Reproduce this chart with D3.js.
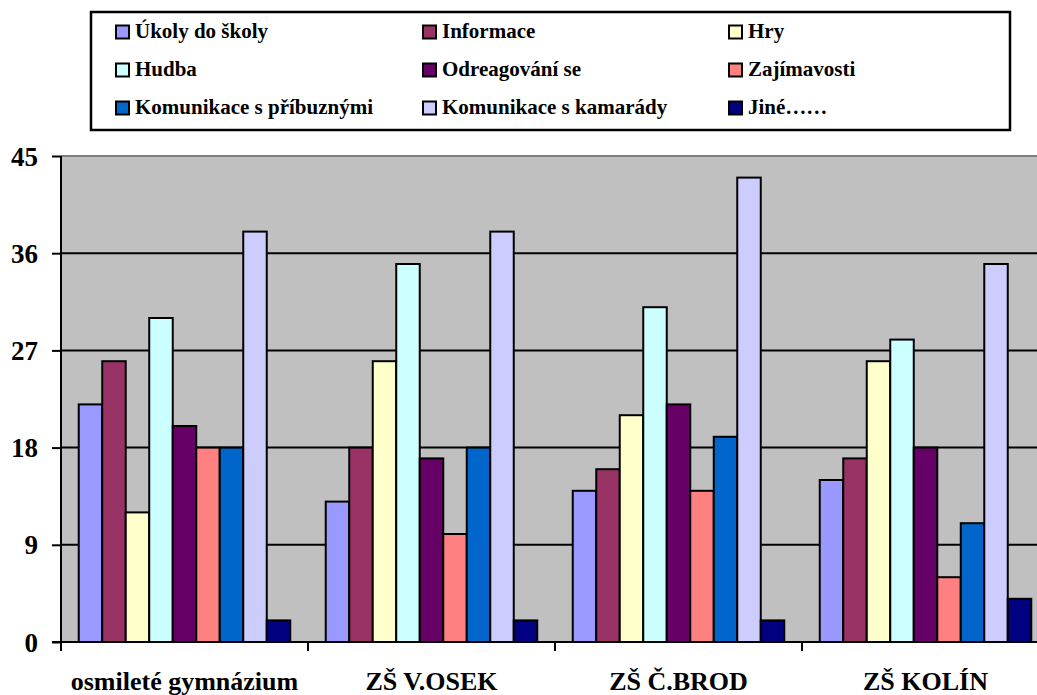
<!DOCTYPE html>
<html><head><meta charset="utf-8">
<script src="https://cdn.jsdelivr.net/npm/d3@7"></script>
<style>body{margin:0;background:#fff}svg{display:block}</style>
</head><body><svg id="c" width="1037" height="695"></svg>
<script>
const categories = ["osmileté gymnázium", "ZŠ V.OSEK", "ZŠ Č.BROD", "ZŠ KOLÍN"];
const seriesNames = ["Úkoly do školy", "Informace", "Hry", "Hudba", "Odreagování se", "Zajímavosti", "Komunikace s příbuznými", "Komunikace s kamarády", "Jiné……"];
const seriesColors = ["#9999FF", "#993366", "#FFFFCC", "#CCFFFF", "#660066", "#FF8080", "#0066CC", "#CCCCFF", "#000080"];
const ukoly = [22, 13, 14, 15];
const informace = [26, 18, 16, 17];
const hry = [12, 26, 21, 26];
const hudba = [30, 35, 31, 28];
const odreagovani = [20, 17, 22, 18];
const zajimavosti = [18, 10, 14, 6];
const pribuzni = [18, 18, 19, 11];
const kamaradi = [38, 38, 43, 35];
const jine = [2, 2, 2, 4];
const yTicks = [0, 9, 18, 27, 36, 45];

const FONT = "'Liberation Serif', 'DejaVu Serif', 'Times New Roman', Times, serif";
const series = [ukoly, informace, hry, hudba, odreagovani, zajimavosti, pribuzni, kamaradi, jine];
const svg = d3.select("#c").attr("font-family", FONT).attr("font-weight", "bold");
const L = 61, R = 1049, T = 156, B = 642;

const x0 = d3.scaleBand().domain(categories).range([L, R]).paddingInner(0.1437).paddingOuter(0.0718);
const x1 = d3.scaleBand().domain(d3.range(seriesNames.length)).range([0, x0.bandwidth()]);
const y = d3.scaleLinear().domain([0, 45]).range([B, T]);

svg.append("rect").attr("x", L).attr("y", T).attr("width", R - L).attr("height", B - T).attr("fill", "#C0C0C0");
svg.append("g").selectAll("line").data(yTicks.filter(d => d > 0 && d < 45)).join("line")
  .attr("x1", L).attr("x2", R).attr("y1", d => y(d)).attr("y2", d => y(d))
  .attr("stroke", "#000").attr("stroke-width", 2);
svg.append("line").attr("x1", L).attr("x2", R).attr("y1", T).attr("y2", T).attr("stroke", "#808080").attr("stroke-width", 2);

const g = svg.append("g");
categories.forEach((c, ci) => {
  series.forEach((s, si) => {
    g.append("rect")
      .attr("x", x0(c) + x1(si)).attr("y", y(s[ci]))
      .attr("width", x1.bandwidth()).attr("height", y(0) - y(s[ci]))
      .attr("fill", seriesColors[si]).attr("stroke", "#000").attr("stroke-width", 2);
  });
});

const yAxis = d3.axisLeft(y).tickValues(yTicks).tickSize(9).tickPadding(14);
const ya = svg.append("g").attr("transform", `translate(${L},0)`).call(yAxis)
  .attr("font-family", FONT).attr("font-weight", "bold");
ya.select(".domain").attr("stroke", "#000").attr("stroke-width", 2).attr("d", `M0,${T}V${B}`);
ya.selectAll(".tick line").attr("stroke", "#000").attr("stroke-width", 2);
ya.selectAll(".tick text").attr("font-size", 27).attr("fill", "#000").attr("dy", "0.34em");

const xa = svg.append("g").attr("transform", `translate(0,${B})`);
xa.append("line").attr("x1", L - 9).attr("x2", R).attr("y1", 0).attr("y2", 0).attr("stroke", "#000").attr("stroke-width", 2);
const groupEdges = categories.map(c => x0(c) - x0.step() * x0.paddingInner() / 2);
xa.selectAll("line.t").data(groupEdges).join("line").attr("class", "t")
  .attr("x1", d => d).attr("x2", d => d).attr("y1", 0).attr("y2", 9).attr("stroke", "#000").attr("stroke-width", 2);
xa.selectAll("text").data(categories).join("text")
  .attr("x", d => x0(d) + x0.bandwidth() / 2).attr("y", 48)
  .attr("text-anchor", "middle").attr("font-size", 26).attr("fill", "#000").text(d => d);

const lg = svg.append("g");
lg.append("rect").attr("x", 91).attr("y", 12).attr("width", 919).attr("height", 118)
  .attr("fill", "#fff").attr("stroke", "#000").attr("stroke-width", 2.5);
const colX = [116, 423, 729], rowY = [32, 70, 108];
seriesNames.forEach((n, i) => {
  const cx = colX[i % 3], cy = rowY[Math.floor(i / 3)];
  lg.append("rect").attr("x", cx).attr("y", cy - 6.5).attr("width", 13).attr("height", 13)
    .attr("fill", seriesColors[i]).attr("stroke", "#000").attr("stroke-width", 2);
  lg.append("text").attr("x", cx + 19).attr("y", cy + 6).attr("font-size", 21).attr("fill", "#000").text(n);
});
</script></body></html>
